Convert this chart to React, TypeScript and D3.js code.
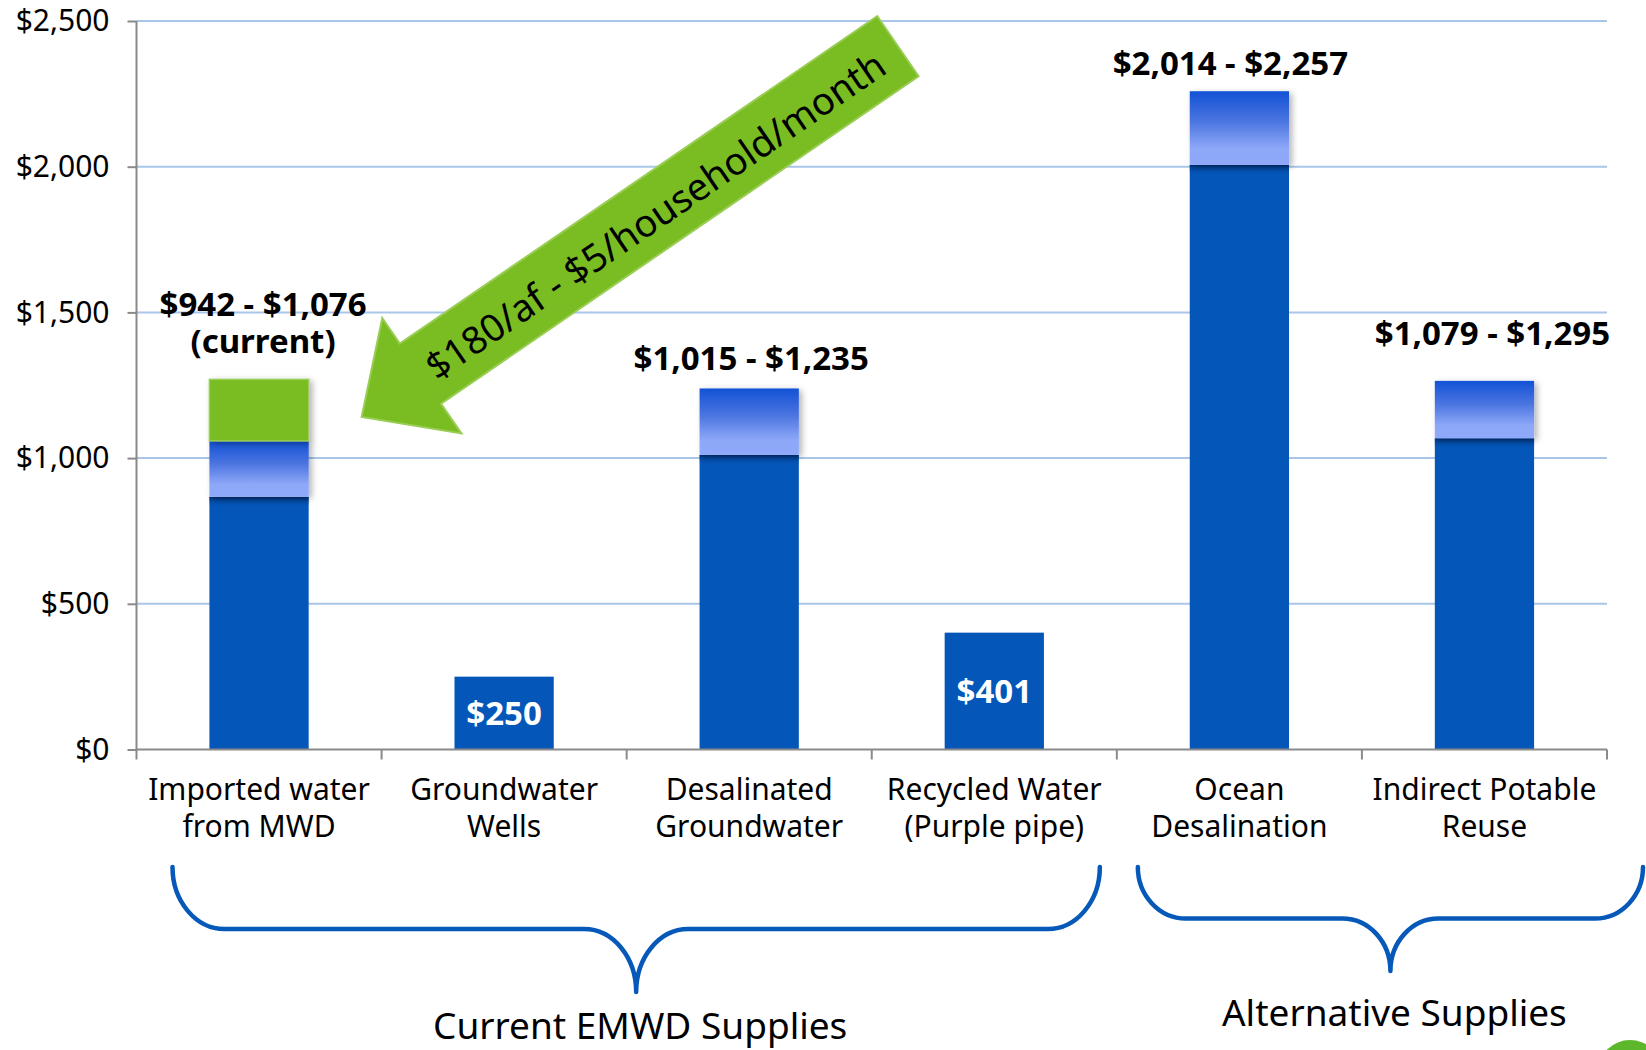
import React, { useRef, useEffect } from 'react';
import * as d3 from 'd3';

// categories, two lines each
const categories = [
  ['Imported water', 'from MWD'],
  ['Groundwater', 'Wells'],
  ['Desalinated', 'Groundwater'],
  ['Recycled Water', '(Purple pipe)'],
  ['Ocean', 'Desalination'],
  ['Indirect Potable', 'Reuse'],
];

// solid dark blue part of each bar ($/af)
const baseValues = [867, 250, 1011, 401, 2006, 1068];
// top of the light "range" segment (null = none)
const rangeTops = [1059, null, 1239, null, 2259, 1265];
// top of the green add-on segment (null = none)
const surchargeTops = [1270, null, null, null, null, null];

const rangeLabels = [
  ['$942 - $1,076', '(current)'],
  null,
  ['$1,015 - $1,235'],
  null,
  ['$2,014 - $2,257'],
  ['$1,079 - $1,295'],
];
const barLabels = [null, '$250', null, '$401', null, null];

const yTicks = [0, 500, 1000, 1500, 2000, 2500];

const groupNames = ['Current EMWD Supplies', 'Alternative Supplies'];
const groupFrom = [0, 4];
const groupTo = [3, 5];

const arrowText = '$180/af - $5/household/month';

const W = 1646;
const H = 1050;
const FONT = "'Noto Sans', 'DejaVu Sans', sans-serif";

const App = () => {
  const ref = useRef(null);

  useEffect(() => {
    d3.select(ref.current).selectAll('*').remove();

    const svg = d3.select(ref.current);

    const left = 136.5, right = 1607, top = 21, bottom = 749.5;

    const x = d3.scaleBand().domain(d3.range(categories.length))
      .range([left, right]).paddingInner(0.595).paddingOuter(0.2975);
    const xEdge = d3.scaleBand().domain(d3.range(categories.length))
      .range([left, right]).padding(0);
    const y = d3.scaleLinear().domain([0, 2500]).range([bottom, top]);

    const defs = svg.append('defs');
    const grad = defs.append('linearGradient').attr('id', 'rangeGrad')
      .attr('x1', 0).attr('y1', 0).attr('x2', 0).attr('y2', 1);
    grad.append('stop').attr('offset', '0%').attr('stop-color', '#1352d6');
    grad.append('stop').attr('offset', '40%').attr('stop-color', '#4a74e0');
    grad.append('stop').attr('offset', '78%').attr('stop-color', '#8ea8f8');
    grad.append('stop').attr('offset', '100%').attr('stop-color', '#8fa9fa');

    const topShade = defs.append('linearGradient').attr('id', 'topShade')
      .attr('x1', 0).attr('y1', 0).attr('x2', 0).attr('y2', 1);
    topShade.append('stop').attr('offset', '0%').attr('stop-color', '#002a6a').attr('stop-opacity', 0.85);
    topShade.append('stop').attr('offset', '100%').attr('stop-color', '#0456b8').attr('stop-opacity', 0);

    const filt = defs.append('filter').attr('id', 'segShadow')
      .attr('x', '-20%').attr('y', '-20%').attr('width', '150%').attr('height', '150%');
    filt.append('feDropShadow').attr('dx', 3).attr('dy', 2).attr('stdDeviation', 3)
      .attr('flood-color', '#000').attr('flood-opacity', 0.3);

    // grid lines
    svg.append('g').selectAll('line')
      .data(yTicks.filter(d => d > 0))
      .enter().append('line')
      .attr('x1', left).attr('x2', right)
      .attr('y1', d => y(d)).attr('y2', d => y(d))
      .attr('stroke', '#a9c6e8').attr('stroke-width', 2);

    // bars
    const bars = svg.append('g');
    const bw = x.bandwidth();
    baseValues.forEach((v, i) => {
      bars.append('rect')
        .attr('x', x(i)).attr('y', y(v))
        .attr('width', bw).attr('height', y(0) - y(v))
        .attr('fill', '#0456b8');
      if (rangeTops[i] != null) {
        bars.append('rect')
          .attr('x', x(i)).attr('y', y(v))
          .attr('width', bw).attr('height', 10)
          .attr('fill', 'url(#topShade)');
        bars.append('rect')
          .attr('x', x(i)).attr('y', y(rangeTops[i]))
          .attr('width', bw).attr('height', y(v) - y(rangeTops[i]))
          .attr('fill', 'url(#rangeGrad)')
          .attr('filter', 'url(#segShadow)');
      }
      if (surchargeTops[i] != null) {
        bars.append('rect')
          .attr('x', x(i)).attr('y', y(surchargeTops[i]))
          .attr('width', bw).attr('height', y(rangeTops[i]) - y(surchargeTops[i]))
          .attr('fill', '#7abd23')
          .attr('stroke', '#9acd55').attr('stroke-width', 1.5)
          .attr('filter', 'url(#segShadow)');
      }
      if (barLabels[i]) {
        bars.append('text')
          .attr('x', x(i) + bw / 2)
          .attr('y', (y(v) + y(0)) / 2)
          .attr('dy', '0.36em')
          .attr('text-anchor', 'middle')
          .attr('font-family', FONT).attr('font-weight', 700).attr('font-size', 33)
          .attr('fill', '#fff')
          .text(barLabels[i]);
      }
    });

    // range labels above bars (one text, lines as tspans)
    const labelLift = [26, 0, 18, 0, 16, 36];
    const labelShift = [4, 0, 2, 0, -9, 8];
    rangeLabels.forEach((lines, i) => {
      if (!lines) return;
      const topVal = surchargeTops[i] != null ? surchargeTops[i] : rangeTops[i];
      const lastY = y(topVal) - labelLift[i];
      const cx = x(i) + bw / 2 + labelShift[i];
      const t = svg.append('text')
        .attr('text-anchor', 'middle')
        .attr('font-family', FONT).attr('font-weight', 700).attr('font-size', 33)
        .attr('fill', '#000');
      lines.forEach((s, k) => {
        t.append('tspan')
          .attr('x', cx)
          .attr('y', lastY - (lines.length - 1 - k) * 37)
          .text(s);
      });
    });

    // y axis
    const yAxis = d3.axisLeft(y).tickValues(yTicks).tickSize(9).tickPadding(18)
      .tickFormat(d3.format('$,'));
    const gy = svg.append('g').attr('transform', `translate(${left},0)`).call(yAxis);
    gy.select('.domain').remove();
    gy.selectAll('.tick line').attr('stroke', '#8a8a8a').attr('stroke-width', 2);
    gy.selectAll('.tick text')
      .attr('font-family', FONT).attr('font-size', 30).attr('fill', '#000');
    svg.append('line')
      .attr('x1', left).attr('x2', left).attr('y1', top).attr('y2', bottom + 1)
      .attr('stroke', '#8a8a8a').attr('stroke-width', 2);

    // x axis
    svg.append('line')
      .attr('x1', left).attr('x2', right).attr('y1', bottom).attr('y2', bottom)
      .attr('stroke', '#8a8a8a').attr('stroke-width', 2);
    const edges = d3.range(categories.length).map(i => xEdge(i)).concat([right]);
    svg.append('g').selectAll('line').data(edges).enter().append('line')
      .attr('x1', d => d).attr('x2', d => d)
      .attr('y1', bottom).attr('y2', bottom + 10)
      .attr('stroke', '#8a8a8a').attr('stroke-width', 2);

    // category labels
    const cat = svg.append('g');
    categories.forEach((lines, i) => {
      const t = cat.append('text')
        .attr('text-anchor', 'middle')
        .attr('font-family', FONT).attr('font-size', 30).attr('fill', '#000');
      lines.forEach((s, k) => {
        t.append('tspan')
          .attr('x', x(i) + bw / 2)
          .attr('y', 800 + k * 36.5)
          .text(s);
      });
    });

    // green arrow pointing at the first bar
    const tipX = x(0) + bw + 53;
    const tipY = y(1141);
    const arrow = svg.append('g')
      .attr('transform', `translate(${tipX},${tipY}) rotate(-34.45)`);
    const headLen = 73, headHalf = 70, shaftTop = -39, shaftBot = 34, len = 652;
    const pts = [
      [0, 0], [headLen, -headHalf], [headLen, shaftTop], [len, shaftTop],
      [len, shaftBot], [headLen, shaftBot], [headLen, headHalf],
    ];
    arrow.append('polygon')
      .attr('points', pts.map(p => p.join(',')).join(' '))
      .attr('fill', '#7abd23').attr('stroke', '#9acd55').attr('stroke-width', 2)
      .attr('stroke-linejoin', 'miter');
    arrow.append('text')
      .attr('x', 356).attr('y', 0).attr('dy', '0.36em')
      .attr('text-anchor', 'middle')
      .attr('font-family', FONT).attr('font-size', 38).attr('fill', '#000')
      .text(arrowText);

    // braces under the categories
    const brace = (x0, x1, yTop, yMid, yTip, r) => {
      const xm = (x0 + x1) / 2;
      const k = 0.552;
      const h1 = yMid - yTop, h2 = yTip - yMid;
      return `M${x0},${yTop}` +
        `C${x0},${yTop + h1 * k} ${x0 + r * (1 - k)},${yMid} ${x0 + r},${yMid}` +
        `L${xm - r},${yMid}` +
        `C${xm - r * (1 - k)},${yMid} ${xm},${yTip - h2 * k} ${xm},${yTip}` +
        `M${xm},${yTip}` +
        `C${xm},${yTip - h2 * k} ${xm + r * (1 - k)},${yMid} ${xm + r},${yMid}` +
        `L${x1 - r},${yMid}` +
        `C${x1 - r * (1 - k)},${yMid} ${x1},${yTop + h1 * k} ${x1},${yTop}`;
    };
    const braceSpec = [
      { x0: xEdge(groupFrom[0]) + 36, x1: xEdge(groupTo[0]) + xEdge.bandwidth() - 17, mid: 929, tip: 992, r: 52, ly: 1039 },
      { x0: xEdge(groupFrom[1]) + 21, x1: xEdge(groupTo[1]) + xEdge.bandwidth() + 36, mid: 918.5, tip: 971, r: 48, ly: 1026 },
    ];
    braceSpec.forEach((b, i) => {
      svg.append('path')
        .attr('d', brace(b.x0, b.x1, 867, b.mid, b.tip, b.r))
        .attr('fill', 'none').attr('stroke', '#0759b9').attr('stroke-width', 4.5)
        .attr('stroke-linecap', 'round');
      svg.append('text')
        .attr('x', (b.x0 + b.x1) / 2 + 4)
        .attr('y', b.ly)
        .attr('text-anchor', 'middle')
        .attr('font-family', FONT).attr('font-size', 37).attr('fill', '#000')
        .text(groupNames[i]);
    });

    // corner logo sliver
    svg.append('circle').attr('cx', 1630).attr('cy', 1072).attr('r', 32).attr('fill', '#5cb82a');
  }, []);

  return (
    <svg
      ref={ref}
      width={W}
      height={H}
      style={{ position: 'absolute', left: 0, top: 0, background: '#fff' }}
    />
  );
};

export default App;
